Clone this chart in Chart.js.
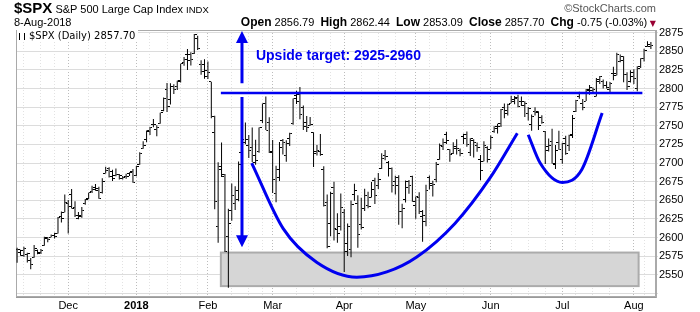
<!DOCTYPE html>
<html>
<head>
<meta charset="utf-8">
<title>$SPX daily</title>
<script src="https://cdn.jsdelivr.net/npm/chart.js@4.4.0/dist/chart.umd.min.js"></script>
<style>
body { margin: 0; background: #fff; }
#wrap { position: relative; width: 700px; height: 312px; font-family: "Liberation Sans", Arial, sans-serif; color: #000; }
#wrap canvas { position: absolute; left: 0; top: 0; }
.t { position: absolute; white-space: nowrap; font-size: 11px; line-height: 13px; }
.t b { font-size: 12px; }
#legend { position: absolute; left: 17px; top: 30px; background: #fff; padding: 0 3px 1px 2px; font: 10px "DejaVu Sans", Verdana, sans-serif; line-height: 11px; white-space: nowrap; }
#legend i { display: inline-block; width: 4px; height: 7px; border-left: 1px solid #000; border-right: 1px solid #000; margin-right: 4px; vertical-align: -1px; }
</style>
</head>
<body>
<div id="wrap">
  <canvas id="spx" width="700" height="312"></canvas>
  <div class="t" style="left:14px; top:1px;"><b style="font-size:15px">$SPX</b> S&amp;P 500 Large Cap Index <span style="font-size:9.5px">INDX</span></div>
  <div class="t" style="left:14px; top:16px;">8-Aug-2018</div>
  <div class="t" style="right:44px; top:2px; color:#555;">&copy;StockCharts.com</div>
  <div class="t" style="right:44px; top:16px;"><b>Open</b> 2856.79 &nbsp;<b>High</b> 2862.44 &nbsp;<b>Low</b> 2853.09 &nbsp;<b>Close</b> 2857.70 &nbsp;<b>Chg</b> -0.75 (-0.03%)<span style="color:#990033; font-size:8px; font-family:'DejaVu Sans'"> &#9660;</span></div>
  <div id="legend"><i></i>$SPX (Daily) 2857.70</div>
</div>
<script>
// trading days shown, one row per month
const tradingDays = [
  [2017, 11, [9,10,13,14,15,16,17,20,21,22,24,27,28,29,30]],
  [2017, 12, [1,4,5,6,7,8,11,12,13,14,15,18,19,20,21,22,26,27,28,29]],
  [2018, 1, [2,3,4,5,8,9,10,11,12,16,17,18,19,22,23,24,25,26,29,30,31]],
  [2018, 2, [1,2,5,6,7,8,9,12,13,14,15,16,20,21,22,23,26,27,28]],
  [2018, 3, [1,2,5,6,7,8,9,12,13,14,15,16,19,20,21,22,23,26,27,28,29]],
  [2018, 4, [2,3,4,5,6,9,10,11,12,13,16,17,18,19,20,23,24,25,26,27,30]],
  [2018, 5, [1,2,3,4,7,8,9,10,11,14,15,16,17,18,21,22,23,24,25,29,30,31]],
  [2018, 6, [1,4,5,6,7,8,11,12,13,14,15,18,19,20,21,22,25,26,27,28,29]],
  [2018, 7, [2,3,5,6,9,10,11,12,13,16,17,18,19,20,23,24,25,26,27,30,31]],
  [2018, 8, [1,2,3,6,7,8]]
];
const monthLabels = ['', 'Dec', '2018', 'Feb', 'Mar', 'Apr', 'May', 'Jun', 'Jul', 'Aug'];

const open = [
  2584,2580.2,2576.5,2577.8,2569.5,2572.9,2582.9,2579.5,2589.2,2600.3,2600.4,2602.7,2605.9,2627.8,2633.9,
  2645.1,2657.2,2639.8,2626.2,2628.4,2646.2,2652.2,2661.7,2667.6,2665.9,2660.6,2685.9,2692.7,2688.2,2683.0,2684.2,2679.1,2682.1,2686.1,2689.2,
  2683.7,2697.9,2719.3,2731.3,2742.7,2751.2,2745.6,2753.0,2770.2,2799.0,2785.0,2802.4,2802.6,2809.2,2835.1,2845.4,2846.2,2847.5,2867.2,2832.7,2832.4,
  2816.5,2808.9,2741.1,2614.8,2691.0,2685.0,2601.8,2636.8,2646.3,2651.2,2713.5,2727.1,2723.0,2720.5,2710.4,2715.8,2757.4,2780.5,2753.8,
  2715.2,2658.9,2681.1,2730.2,2710.2,2732.8,2752.9,2790.5,2792.3,2774.1,2754.3,2750.6,2741.4,2715.1,2715.0,2691.4,2646.7,2619.4,2667.6,2611.3,2614.4,
  2633.5,2592.2,2584.0,2657.4,2645.8,2617.2,2638.4,2643.0,2653.8,2676.9,2670.1,2692.7,2710.1,2701.2,2692.6,2675.4,2680.8,2634.9,2651.7,2675.5,2682.5,
  2643.0,2654.2,2628.1,2621.5,2680.3,2670.3,2678.1,2705.0,2722.7,2738.5,2718.6,2712.6,2719.7,2717.4,2735.4,2738.3,2714.0,2730.9,2723.6,2705.1,2702.4,2721.0,
  2718.7,2741.7,2748.5,2753.3,2774.8,2765.8,2780.2,2785.6,2787.9,2783.2,2777.8,2765.8,2752.0,2769.7,2769.3,2760.8,2742.9,2722.1,2728.5,2698.7,2727.1,
  2705.0,2733.3,2724.2,2737.7,2768.5,2788.6,2779.8,2783.1,2796.9,2797.4,2789.3,2811.4,2809.4,2804.6,2799.2,2820.7,2817.7,2835.5,2842.4,2819.0,2809.7,
  2821.2,2800.5,2829.6,2840.3,2855.9,2856.79
];
const high = [
  2586.5,2583.8,2587.7,2579.7,2572.8,2590.1,2584.0,2584.6,2601.2,2600.9,2604.2,2606.4,2627.7,2634.9,2657.7,
  2650.6,2665.2,2648.7,2634.4,2641.0,2651.7,2660.3,2669.7,2671.9,2668.1,2679.6,2695.0,2694.4,2691.0,2692.6,2685.4,2682.7,2685.6,2687.7,2692.1,
  2695.9,2714.4,2729.3,2743.5,2748.5,2759.1,2750.8,2767.6,2787.9,2807.5,2807.0,2805.8,2810.3,2833.0,2842.2,2853.0,2848.6,2872.9,2870.6,2837.8,2839.3,
  2836.0,2808.9,2763.4,2701.0,2727.7,2685.3,2638.7,2672.6,2668.8,2702.1,2731.5,2754.4,2737.6,2747.8,2731.3,2747.8,2780.0,2789.2,2761.5,
  2730.9,2696.3,2728.1,2732.1,2730.6,2740.5,2786.6,2797.0,2801.9,2777.1,2763.0,2761.9,2741.4,2724.2,2739.1,2695.7,2657.7,2661.4,2674.8,2632.7,2659.1,
  2638.3,2619.1,2649.9,2672.1,2656.9,2653.6,2665.5,2661.4,2674.7,2680.3,2686.5,2713.3,2717.5,2702.8,2693.9,2682.9,2683.6,2645.3,2676.5,2677.4,2682.9,
  2655.3,2660.9,2637.1,2670.9,2683.4,2676.3,2701.3,2726.1,2732.9,2742.1,2718.6,2727.8,2732.0,2719.5,2739.2,2742.2,2733.3,2732.0,2727.4,2710.7,2729.3,2722.5,
  2736.9,2749.2,2752.6,2772.4,2779.9,2779.4,2790.2,2789.8,2791.5,2789.1,2782.8,2775.0,2765.1,2774.9,2769.3,2764.2,2742.9,2732.9,2746.1,2724.3,2743.3,
  2727.3,2736.6,2737.8,2764.4,2784.7,2795.6,2785.9,2799.2,2804.5,2801.2,2814.2,2816.8,2812.1,2809.7,2808.6,2829.0,2848.0,2845.6,2843.2,2821.7,2824.5,
  2825.8,2829.9,2840.4,2853.3,2863.4,2862.44
];
const low = [
  2566.3,2575.6,2574.5,2566.6,2557.5,2572.9,2577.6,2578.2,2589.2,2593.9,2600.4,2598.9,2605.4,2620.3,2633.9,
  2605.5,2639.0,2627.7,2624.8,2626.5,2644.1,2651.5,2659.8,2662.9,2652.0,2659.1,2685.9,2680.7,2676.1,2682.4,2678.1,2678.0,2678.9,2682.7,2673.6,
  2682.4,2697.8,2719.1,2727.9,2737.6,2747.9,2736.1,2752.8,2769.6,2768.6,2778.4,2792.6,2798.1,2808.1,2830.6,2824.8,2830.9,2846.2,2851.5,2818.3,2813.0,
  2812.7,2760.0,2638.2,2593.1,2681.3,2580.6,2532.7,2622.5,2637.1,2648.9,2689.8,2725.1,2706.8,2701.3,2697.8,2713.7,2753.8,2744.2,2713.5,
  2659.7,2647.3,2675.8,2711.3,2701.7,2722.7,2751.5,2779.3,2758.7,2744.4,2741.5,2750.0,2694.6,2710.1,2709.8,2641.6,2585.9,2601.8,2596.1,2593.1,2609.7,
  2553.8,2575.5,2573.6,2649.6,2586.3,2610.8,2635.8,2639.3,2653.8,2645.1,2665.2,2692.0,2703.6,2681.9,2660.6,2658.0,2617.3,2612.7,2647.2,2659.0,2648.0,
  2625.4,2631.7,2594.6,2615.3,2664.7,2655.2,2674.1,2704.5,2717.5,2725.5,2701.9,2712.2,2711.4,2709.2,2725.7,2721.9,2709.5,2707.4,2715.0,2676.8,2702.4,2700.7,
  2718.7,2740.5,2739.5,2748.5,2760.2,2763.6,2780.2,2778.8,2774.7,2776.5,2761.7,2757.1,2743.2,2763.9,2744.4,2752.7,2698.7,2715.6,2699.4,2692.0,2718.0,
  2699.0,2711.2,2716.0,2733.5,2768.5,2786.2,2770.8,2783.1,2791.7,2793.4,2789.2,2805.9,2799.8,2800.0,2795.1,2811.1,2817.7,2835.3,2808.3,2798.1,2808.1,
  2805.9,2796.3,2827.4,2836.0,2855.9,2853.09
];
const close = [
  2584.6,2582.3,2584.8,2578.9,2564.6,2585.6,2578.9,2582.1,2599.0,2597.1,2602.4,2601.4,2627.0,2626.1,2647.6,
  2642.2,2639.4,2629.6,2629.3,2637.0,2651.5,2660.0,2664.1,2662.9,2652.0,2675.8,2690.2,2681.5,2679.3,2684.6,2683.3,2680.5,2682.6,2687.5,2673.6,
  2695.8,2713.1,2724.0,2743.2,2747.7,2751.3,2748.2,2767.6,2786.2,2776.4,2802.6,2798.0,2810.3,2833.0,2839.1,2837.5,2839.3,2872.9,2853.5,2822.4,2823.8,
  2822.0,2762.1,2648.9,2695.1,2681.7,2581.0,2619.6,2656.0,2662.9,2698.6,2731.2,2732.2,2716.3,2701.3,2704.0,2747.3,2779.6,2744.3,2713.8,
  2677.7,2691.3,2720.9,2728.1,2726.8,2739.0,2786.6,2783.0,2765.3,2749.5,2747.3,2752.0,2712.9,2716.9,2711.9,2643.7,2588.3,2658.6,2612.6,2605.0,2640.9,
  2581.9,2614.5,2644.7,2662.8,2604.5,2613.2,2656.9,2642.2,2664.0,2656.3,2677.8,2706.4,2708.6,2693.1,2670.1,2670.3,2634.6,2639.4,2666.9,2669.9,2648.1,
  2654.8,2635.7,2629.7,2663.4,2672.6,2671.9,2697.8,2723.1,2727.7,2730.1,2711.5,2722.5,2720.1,2713.0,2733.0,2724.4,2733.3,2727.8,2721.3,2689.9,2724.0,2705.3,
  2734.6,2746.9,2748.8,2772.4,2770.4,2779.0,2782.0,2786.9,2775.6,2782.5,2779.4,2773.8,2762.6,2767.3,2749.8,2754.9,2717.1,2723.1,2699.6,2716.3,2718.4,
  2726.7,2713.2,2736.6,2759.8,2784.2,2793.8,2774.0,2798.3,2801.3,2798.4,2809.6,2815.6,2804.5,2801.8,2807.0,2820.4,2846.1,2837.4,2818.8,2802.6,2816.3,
  2813.4,2827.2,2840.4,2850.4,2858.5,2857.70
];

const yTicks = [2550, 2575, 2600, 2625, 2650, 2675, 2700, 2725, 2750, 2775, 2800, 2825, 2850, 2875];

// hand drawn annotations, in bar index / price units
const cup = [[68.85, 2700], [78.1, 2612], [87.9, 2567], [99.7, 2547], [108.5, 2554], [117.3, 2574], [128.5, 2619], [138.8, 2680], [146.8, 2740]];
const handle = [[150.0, 2738], [153.5, 2700], [160.0, 2674], [165.7, 2691], [171.7, 2767]];
const neckline = [[59.8, 2794], [183.5, 2794]];
const supportBox = [59.8, 182.4, 2535, 2580];          // from, to, bottom, top
const targetArrow = [66, 2877, 2807, 2788.5, 2587];    // x, top, gap top, gap bottom, bottom
const targetNote = [70.1, 2838, 'Upside target: 2925-2960'];

const blue = '#0000f0';

// build dates, week starts and month starts
const dates = [];
const monthStart = {};
tradingDays.forEach(function(m, k) {
    m[2].forEach(function(d, j) {
        if (j === 0 && k > 0) monthStart[dates.length] = monthLabels[k];
        dates.push(new Date(Date.UTC(m[0], m[1] - 1, d)));
    });
});
const gridTicks = [];
const monthIdx = Object.keys(monthStart).map(Number);
dates.forEach(function(d, i) {
    if (monthStart[i] !== undefined) {
        gridTicks.push({ value: i, month: true });
    } else if (i > 0 && d.getUTCDay() <= dates[i - 1].getUTCDay()) {
        const near = monthIdx.some(m => Math.abs(m - i) <= 2);
        if (!near) gridTicks.push({ value: i, month: false });
    }
});

function tickImage(side) {
    const c = document.createElement('canvas');
    c.width = 5; c.height = 1;
    const g = c.getContext('2d');
    g.fillStyle = '#000';
    g.fillRect(side < 0 ? 0 : 3, 0, 2, 1);
    return c;
}

const pts = arr => arr.map(p => ({ x: p[0], y: p[1] }));

const marks = {
    id: 'marks',
    beforeDatasetsDraw(chart) {
        const { ctx, chartArea: a, scales: { x, y } } = chart;
        ctx.save();
        ctx.strokeStyle = '#aaaaaa';
        ctx.lineWidth = 1;
        ctx.strokeRect(a.left + 0.5, a.top + 0.5, a.right - a.left - 1, a.bottom - a.top - 1);
        const x0 = x.getPixelForValue(supportBox[0]), x1 = x.getPixelForValue(supportBox[1]);
        const y0 = y.getPixelForValue(supportBox[3]), y1 = y.getPixelForValue(supportBox[2]);
        ctx.fillStyle = '#d6d6d6';
        ctx.fillRect(x0, y0, x1 - x0, y1 - y0);
        ctx.strokeStyle = '#ababab';
        ctx.lineWidth = 2;
        ctx.strokeRect(x0, y0, x1 - x0, y1 - y0);
        ctx.restore();
    },
    afterDatasetsDraw(chart) {
        const { ctx, scales: { x, y } } = chart;
        const ax = x.getPixelForValue(targetArrow[0]);
        const top = y.getPixelForValue(targetArrow[1]);
        const gapTop = y.getPixelForValue(targetArrow[2]);
        const gapBottom = y.getPixelForValue(targetArrow[3]);
        const bottom = y.getPixelForValue(targetArrow[4]);
        ctx.save();
        ctx.strokeStyle = blue;
        ctx.fillStyle = blue;
        ctx.lineWidth = 3;
        ctx.beginPath();
        ctx.moveTo(ax, top + 10); ctx.lineTo(ax, gapTop);
        ctx.moveTo(ax, gapBottom); ctx.lineTo(ax, bottom - 10);
        ctx.stroke();
        ctx.beginPath();
        ctx.moveTo(ax, top); ctx.lineTo(ax - 6, top + 12); ctx.lineTo(ax + 6, top + 12); ctx.closePath();
        ctx.moveTo(ax, bottom); ctx.lineTo(ax - 6, bottom - 12); ctx.lineTo(ax + 6, bottom - 12); ctx.closePath();
        ctx.fill();
        ctx.font = 'bold 14px "Liberation Sans", Arial, sans-serif';
        ctx.textBaseline = 'alphabetic';
        ctx.fillText(targetNote[2], x.getPixelForValue(targetNote[0]), y.getPixelForValue(targetNote[1]));
        ctx.restore();
    }
};

Chart.defaults.font.family = '"Liberation Sans", Arial, sans-serif';
Chart.defaults.color = '#000';

new Chart(document.getElementById('spx'), {
    type: 'bar',
    data: {
        datasets: [
            { type: 'line', data: pts(cup), borderColor: blue, borderWidth: 3, pointRadius: 0, cubicInterpolationMode: 'monotone', order: 0 },
            { type: 'line', data: pts(handle), borderColor: blue, borderWidth: 3, pointRadius: 0, cubicInterpolationMode: 'monotone', order: 0 },
            { type: 'line', data: pts(neckline), borderColor: blue, borderWidth: 2.5, pointRadius: 0, order: 0 },
            { type: 'line', data: open.map((v, i) => ({ x: i, y: v })), showLine: false, pointStyle: tickImage(-1), pointRadius: 2, order: 1 },
            { type: 'line', data: close.map((v, i) => ({ x: i, y: v })), showLine: false, pointStyle: tickImage(1), pointRadius: 2, order: 1 },
            { type: 'bar', data: high.map((v, i) => ({ x: i, y: [low[i], v] })), backgroundColor: '#000', barThickness: 1, inflateAmount: 0, order: 2 }
        ]
    },
    options: {
        responsive: false,
        animation: false,
        events: [],
        layout: { padding: { left: 16, top: 30, right: 0, bottom: 0 } },
        plugins: { legend: { display: false }, tooltip: { enabled: false } },
        scales: {
            x: {
                type: 'linear',
                min: -0.32,
                max: 187.5,
                offset: false,
                afterBuildTicks: s => { s.ticks = gridTicks.map(t => ({ value: t.value })); },
                afterFit: s => { s.height = 15; },
                grid: {
                    offset: false,
                    drawTicks: false,
                    color: c => (c.tick && monthStart[c.tick.value] !== undefined) ? '#bcbcbc' : '#e2e2e2'
                },
                border: { display: true, color: '#999', dash: [1, 2] },
                ticks: {
                    autoSkip: false,
                    maxRotation: 0,
                    padding: 2,
                    color: '#000',
                    font: c => ({ size: 11, weight: (c.tick && c.tick.label === '2018') ? 'bold' : 'normal' }),
                    callback: v => monthStart[v] || ''
                }
            },
            y: {
                position: 'right',
                min: 2520.4,
                max: 2878.4,
                afterBuildTicks: s => { s.ticks = [2525].concat(yTicks).map(v => ({ value: v })); },
                afterFit: s => { s.width = 44; },
                grid: { color: '#dcdcdc', tickLength: 2 },
                border: { color: '#aaa' },
                ticks: {
                    padding: 1,
                    color: '#000',
                    font: { size: 11 },
                    callback: v => yTicks.includes(v) ? String(v) : ''
                }
            }
        }
    },
    plugins: [marks]
});
</script>
</body>
</html>
